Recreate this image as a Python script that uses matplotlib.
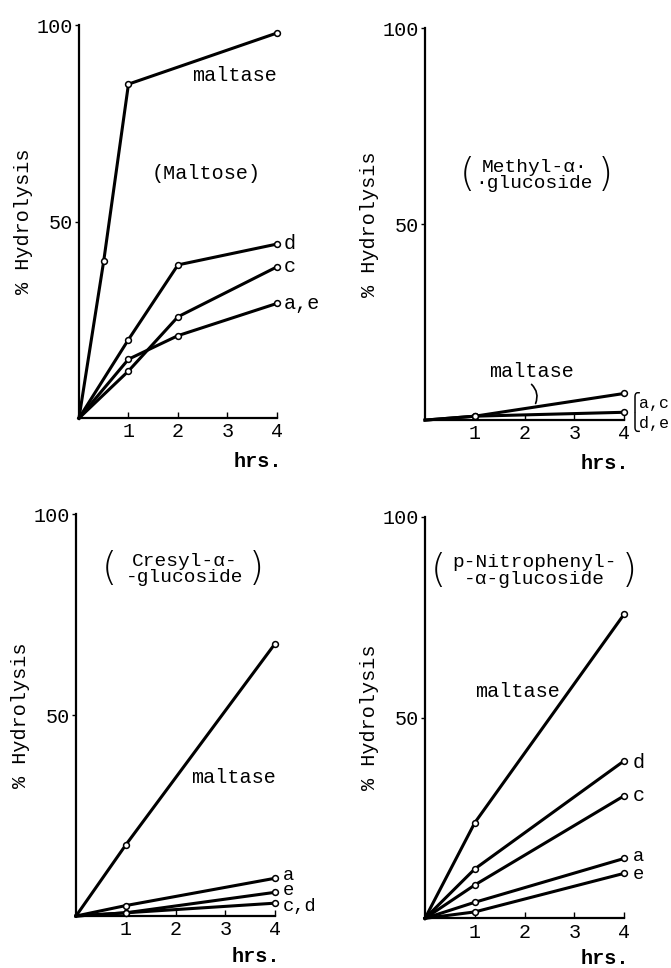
import matplotlib
matplotlib.use("Agg")
import matplotlib.pyplot as plt

# hours sampled
hours = [0, 1, 4]
hours_maltose = [0, 0.5, 1, 4]
hours_maltose_ab = [0, 1, 2, 4]

# Maltose panel (% hydrolysis)
maltose_maltase = [0, 40, 85, 98]
maltose_d = [0, 20, 39, 44.3]
maltose_c = [0, 12, 25.8, 38.5]
maltose_ae = [0, 15, 21, 29.2]

# Methyl-alpha-glucoside panel
methyl_ac = [0, 1, 6.8]
methyl_de = [0, 1, 2.0]

# Cresyl-alpha-glucoside panel
cresyl_maltase = [0, 17.7, 67.8]
cresyl_a = [0, 2.6, 9.4]
cresyl_e = [0, 0.8, 5.9]
cresyl_cd = [0, 0.8, 3.2]

# p-Nitrophenyl-alpha-glucoside panel
nitro_maltase = [0, 23.8, 75.7]
nitro_d = [0, 12.3, 39.2]
nitro_c = [0, 8.3, 30.5]
nitro_a = [0, 4.0, 14.9]
nitro_e = [0, 1.6, 11.2]

FONT = ["Liberation Mono", "DejaVu Sans Mono", "DejaVu Sans"]
plt.rcParams["font.family"] = FONT
FS = 14.5


def curve(ax, x, y):
    ax.plot(x, y, color="black", lw=2.2, marker="o", ms=4.2, mfc="white",
            mec="black", mew=1.1, markevery=slice(1, None), clip_on=False, zorder=3)


def setup_axes(ax, hrs_y):
    ax.set_xlim(0, 4)
    ax.set_ylim(0, 100)
    for s in ("top", "right"):
        ax.spines[s].set_visible(False)
    ax.spines["left"].set_linewidth(1.6)
    ax.spines["bottom"].set_linewidth(1.6)
    ax.set_xticks([1, 2, 3, 4])
    ax.set_xticklabels(["1", "2", "3", "4"])
    ax.set_yticks([50, 100])
    ax.set_yticklabels(["50", "100"])
    ax.tick_params(axis="x", direction="in", length=4, width=1, labelsize=FS, pad=3)
    ax.tick_params(axis="y", direction="out", length=3, width=1, labelsize=FS, pad=1)
    ax.set_ylabel("% Hydrolysis", fontsize=FS, labelpad=3)
    ax.text(3.62, hrs_y, "hrs.", fontsize=FS, ha="center", va="center",
            fontweight="bold", clip_on=False)


def title_block(ax, xc, yc, lines, xl, xr, fs=14):
    ax.text(xc, yc, lines, fontsize=fs, ha="center", va="center",
            linespacing=0.95, family=FONT)
    ax.text(xl, yc, "(", fontsize=28, ha="center", va="center",
            family="DejaVu Sans", fontweight="light")
    ax.text(xr, yc, ")", fontsize=28, ha="center", va="center",
            family="DejaVu Sans", fontweight="light")


fig = plt.figure(figsize=(6.71, 9.68), dpi=100)
ax1 = fig.add_axes([0.1177, 0.568, 0.295, 0.406])
ax2 = fig.add_axes([0.6334, 0.566, 0.2966, 0.4046])
ax3 = fig.add_axes([0.1133, 0.0537, 0.2966, 0.415])
ax4 = fig.add_axes([0.6334, 0.0513, 0.2966, 0.4149])

# Maltose
setup_axes(ax1, -11)
curve(ax1, hours_maltose, maltose_maltase)
curve(ax1, hours_maltose_ab, maltose_d)
curve(ax1, hours_maltose_ab, maltose_c)
curve(ax1, hours_maltose_ab, maltose_ae)
ax1.text(3.15, 87.3, "maltase", fontsize=FS, ha="center", va="center")
ax1.text(2.57, 62.3, "(Maltose)", fontsize=FS, ha="center", va="center")
ax1.text(4.13, 44.5, "d", fontsize=FS, ha="left", va="center")
ax1.text(4.13, 38.7, "c", fontsize=FS, ha="left", va="center")
ax1.text(4.13, 29.3, "a,e", fontsize=FS, ha="left", va="center")

# Methyl-alpha-glucoside
setup_axes(ax2, -11)
curve(ax2, hours, methyl_ac)
curve(ax2, hours, methyl_de)
ax2.text(2.14, 12.3, "maltase", fontsize=FS, ha="center", va="center")
ax2.annotate("", xy=(2.2, 3.6), xytext=(2.1, 9.6),
             arrowprops=dict(arrowstyle="-", lw=1.2, connectionstyle="arc3,rad=-0.4"))
ax2.text(4.12, 4.6, "\u23a7a,c", fontsize=FS - 2.5, ha="left", va="center",
         family=FONT, clip_on=False)
ax2.text(4.12, -0.4, "\u23a9d,e", fontsize=FS - 2.5, ha="left", va="center",
         family=FONT, clip_on=False)
title_block(ax2, 2.2, 62.5, "Methyl-\u03b1\u00b7\n\u00b7glucoside", 0.85, 3.62)

# Cresyl-alpha-glucoside
setup_axes(ax3, -10)
curve(ax3, hours, cresyl_maltase)
curve(ax3, hours, cresyl_a)
curve(ax3, hours, cresyl_e)
curve(ax3, hours, cresyl_cd)
ax3.text(3.16, 34.6, "maltase", fontsize=FS, ha="center", va="center")
ax3.text(4.15, 10.2, "a", fontsize=FS - 1, ha="left", va="center")
ax3.text(4.15, 6.3, "e", fontsize=FS - 1, ha="left", va="center")
ax3.text(4.15, 2.4, "c,d", fontsize=FS - 1, ha="left", va="center")
title_block(ax3, 2.19, 86.3, "Cresyl-\u03b1-\n-glucoside", 0.66, 3.62)

# p-Nitrophenyl-alpha-glucoside
setup_axes(ax4, -10)
curve(ax4, hours, nitro_maltase)
curve(ax4, hours, nitro_d)
curve(ax4, hours, nitro_c)
curve(ax4, hours, nitro_a)
curve(ax4, hours, nitro_e)
ax4.text(1.85, 56.4, "maltase", fontsize=FS, ha="center", va="center")
ax4.text(4.18, 38.9, "d", fontsize=FS, ha="left", va="center")
ax4.text(4.18, 30.5, "c", fontsize=FS, ha="left", va="center")
ax4.text(4.18, 15.4, "a", fontsize=FS - 1, ha="left", va="center")
ax4.text(4.18, 10.8, "e", fontsize=FS - 1, ha="left", va="center")
title_block(ax4, 2.2, 86.5, "p-Nitrophenyl-\n-\u03b1-glucoside", 0.27, 4.1)

fig.savefig("out.png", dpi=100)
